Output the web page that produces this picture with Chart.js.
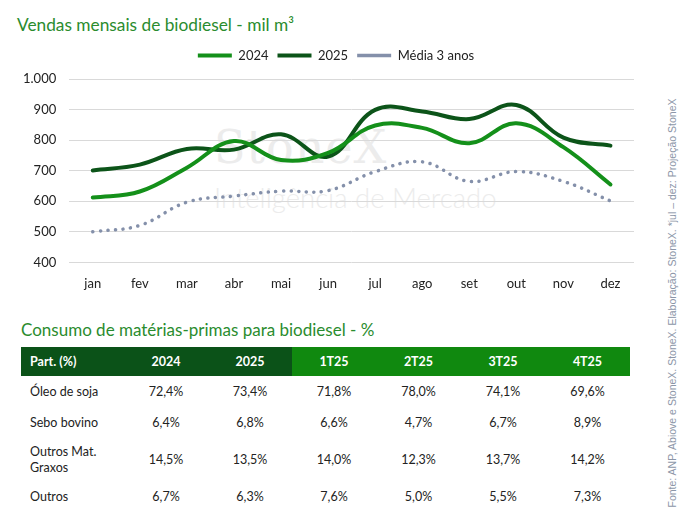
<!DOCTYPE html>
<html>
<head>
<meta charset="utf-8">
<script src="https://cdn.jsdelivr.net/npm/chart.js@4.4.1/dist/chart.umd.min.js"></script>
<style>
  html, body { margin: 0; padding: 0; background: #fff; }
  body { width: 690px; height: 520px; position: relative; overflow: hidden; font-family: Lato, "Open Sans", sans-serif; }
  .ttl { position: absolute; color: #2a8c2e; font-size: 17px; font-family: Lato, sans-serif; }
  .wm1 { position: absolute; left: 214px; top: 120px; font-family: "DejaVu Serif", serif; font-size: 46px; color: #ececec; letter-spacing: 1px; }
  .wm2 { position: absolute; left: 214px; top: 181px; font-size: 27.5px; color: #ececec; font-weight: 300; }
  #wrap { position: absolute; left: 0; top: 40px; width: 634px; height: 258px; }
  table { position: absolute; left: 21px; top: 347px; width: 609px; border-collapse: collapse; font-size: 12.5px; color: #222; }
  th { color: #fff; font-weight: bold; height: 29px; padding: 0; text-align: center; font-size: 12.5px; }
  th.dk { background: #0b5218; }
  th.br { background: #10890f; }
  th:first-child, td:first-child { text-align: left; padding-left: 9px; }
  td { text-align: center; padding: 0; height: 29.5px; padding-top: 1px; }
  tr.tall td { height: 43px; line-height: 16px; }
  .src { position: absolute; left: 672px; top: 303px; transform: translate(-50%, -50%) rotate(-90deg); white-space: nowrap; font-family: "Liberation Sans", Arial, sans-serif; font-size: 10.5px; color: #8c96a8; }
</style>
</head>
<body>
<div class="ttl" style="left:17px;top:14px;font-size:17.3px">Vendas mensais de biodiesel - mil m³</div>
<div class="wm1">StoneX</div>
<div class="wm2">Inteligência de Mercado</div>
<div id="wrap"><canvas id="c"></canvas></div>
<div class="ttl" style="left:21px;top:319px">Consumo de matérias-primas para biodiesel - %</div>
<table id="tbl"></table>
<div class="src">Fonte: ANP, Abiove e StoneX. StoneX. Elaboração: StoneX. *jul – dez: Projeção StoneX</div>
<script>
// ── dados do gráfico ──
const months = ['jan', 'fev', 'mar', 'abr', 'mai', 'jun', 'jul', 'ago', 'set', 'out', 'nov', 'dez']
const sales2024 = [612, 632, 710, 797, 735, 758, 848, 840, 790, 855, 777, 655]
const sales2025 = [701, 720, 771, 769, 819, 746, 899, 894, 869, 915, 808, 782]
const avg3y     = [500, 521, 597, 617, 633, 635, 697, 729, 665, 697, 665, 601]

// ── dados da tabela ──
const tblHead   = ['Part. (%)', '2024', '2025', '1T25', '2T25', '3T25', '4T25']
const tblRows   = ['Óleo de soja', 'Sebo bovino', 'Outros Mat.<br>Graxos', 'Outros']
const tblValues = [
  ['72,4%', '73,4%', '71,8%', '78,0%', '74,1%', '69,6%'],
  ['6,4%',  '6,8%',  '6,6%',  '4,7%',  '6,7%',  '8,9%'],
  ['14,5%', '13,5%', '14,0%', '12,3%', '13,7%', '14,2%'],
  ['6,7%',  '6,3%',  '7,6%',  '5,0%',  '5,5%',  '7,3%'],
]

const colW = [94, 84, 84, 84, 85, 84, 85]
document.getElementById('tbl').innerHTML =
  `<tr>${tblHead.map((h, i) => `<th class="${i < 3 ? 'dk' : 'br'}" style="width:${colW[i]}px">${h}</th>`).join('')}</tr>` +
  tblRows.map((r, i) => `<tr${i === 2 ? ' class="tall"' : ''}><td>${r}</td>${tblValues[i].map(v => `<td>${v}</td>`).join('')}</tr>`).join('')

// legenda: mais espaço embaixo e deslocada para a direita
const legendTweak = {
  id: 'legendTweak',
  beforeInit(chart) {
    const fit = chart.legend.fit
    chart.legend.fit = function () { fit.call(this); this.height += 7 }
  },
  afterLayout(chart) {
    chart.legend.left += 14
    chart.legend.right += 14
  },
}

const tc = '#222'
new Chart(document.getElementById('c'), {
  type: 'line',
  data: {
    labels: months,
    datasets: [
      { label: '2024', data: sales2024, borderColor: '#14901a', backgroundColor: '#14901a', borderWidth: 4, tension: 0.4, pointRadius: 0, pointStyle: 'line', borderCapStyle: 'round' },
      { label: '2025', data: sales2025, borderColor: '#0c5419', backgroundColor: '#0c5419', borderWidth: 4, tension: 0.4, pointRadius: 0, pointStyle: 'line', borderCapStyle: 'round' },
      { label: 'Média 3 anos', data: avg3y, borderColor: '#8490aa', backgroundColor: '#8490aa', borderWidth: 3.5, borderDash: [0.1, 7.5], borderCapStyle: 'round', tension: 0.4, pointRadius: 0, pointStyle: 'line' },
    ]
  },
  plugins: [legendTweak],
  options: {
    responsive: true, maintainAspectRatio: false, animation: false,
    layout: { padding: { left: 10, right: 0, top: 0, bottom: 0 } },
    plugins: {
      legend: {
        position: 'top',
        labels: { usePointStyle: true, pointStyleWidth: 34, boxHeight: 4, color: tc, font: { family: 'Lato', size: 13 }, padding: 9 },
      },
      tooltip: { enabled: false },
    },
    scales: {
      x: { offset: true, grid: { display: false }, border: { display: false }, ticks: { color: tc, font: { family: 'Lato', size: 13 }, padding: 6 } },
      y: {
        min: 400, max: 1000,
        grid: { color: '#d9d9d9', drawTicks: false }, border: { display: false },
        ticks: { stepSize: 100, color: tc, padding: 13, font: { family: 'Lato', size: 13 }, callback: v => v.toLocaleString('pt-BR') },
      },
    },
  },
})
</script>
</body>
</html>
